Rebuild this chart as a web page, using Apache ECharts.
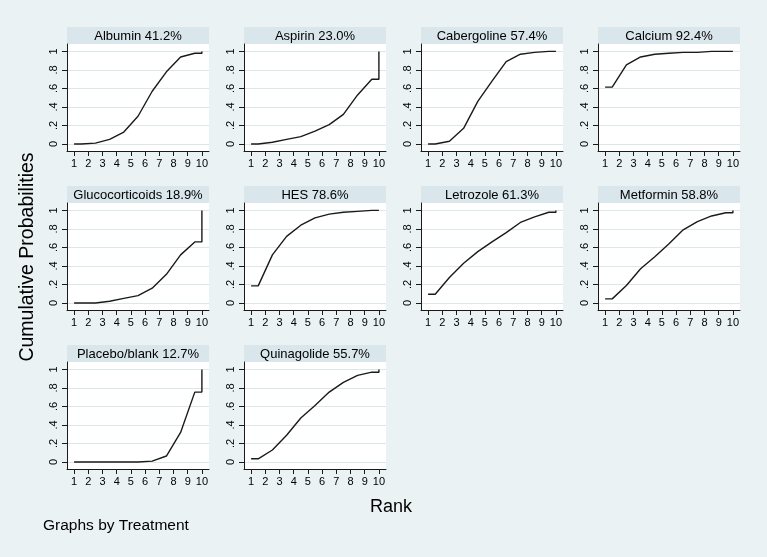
<!DOCTYPE html>
<html>
<head>
<meta charset="utf-8">
<script src="https://cdn.jsdelivr.net/npm/echarts@6/dist/echarts.min.js"></script>
<style>
html,body{margin:0;padding:0;background:#eaf2f3;}
#chart{width:767px;height:557px;}
</style>
</head>
<body>
<div id="chart"></div>
<script>
// ---- data ----
const treatments = ["Albumin", "Aspirin", "Cabergoline", "Calcium", "Glucocorticoids", "HES", "Letrozole", "Metformin", "Placebo/blank", "Quinagolide"];
const sucra = ["41.2%", "23.0%", "57.4%", "92.4%", "18.9%", "78.6%", "61.3%", "58.8%", "12.7%", "55.7%"];
const ranks = [1, 2, 3, 4, 5, 6, 7, 8, 9, 10];
const yTicks = [0, 0.2, 0.4, 0.6, 0.8, 1];
const yTickLabels = ["0", ".2", ".4", ".6", ".8", "1"];
// cumulative probability of being within the best k ranks (k = 1..10)
const albumin        = [0.00, 0.01, 0.05, 0.13, 0.30, 0.57, 0.78, 0.94, 0.98, 1.00];
const aspirin        = [0.00, 0.02, 0.05, 0.08, 0.14, 0.21, 0.32, 0.53, 0.70, 1.00];
const cabergoline    = [0.00, 0.03, 0.17, 0.46, 0.68, 0.89, 0.97, 0.99, 1.00, 1.00];
const calcium        = [0.615, 0.855, 0.94, 0.97, 0.98, 0.99, 0.99, 1.00, 1.00, 1.00];
const glucocorticoids= [0.00, 0.00, 0.02, 0.05, 0.08, 0.16, 0.31, 0.52, 0.66, 1.00];
const hes            = [0.185, 0.52, 0.72, 0.84, 0.92, 0.96, 0.98, 0.99, 1.00, 1.00];
const letrozole      = [0.095, 0.275, 0.43, 0.555, 0.66, 0.76, 0.87, 0.93, 0.98, 1.00];
const metformin      = [0.045, 0.19, 0.37, 0.50, 0.64, 0.79, 0.88, 0.94, 0.975, 1.00];
const placebo        = [0.00, 0.00, 0.00, 0.00, 0.00, 0.01, 0.065, 0.32, 0.755, 1.00];
const quinagolide    = [0.035, 0.13, 0.29, 0.475, 0.61, 0.755, 0.86, 0.935, 0.97, 1.00];
const cumulative = [albumin, aspirin, cabergoline, calcium, glucocorticoids, hes, letrozole, metformin, placebo, quinagolide];

// ---- layout ----
const colLeft = [67, 244, 421, 598];
const rowTop = [44, 203, 362];
const panelW = 142, panelH = 107, titleH = 17;
const FONT = "'Liberation Sans', Arial, sans-serif";

// Stata-style cumulative ranking curve: flat first half-step, kinks at mid-ranks, final jump at last rank
function curvePoints(c) {
  const n = c.length;
  const pts = [[ranks[0], c[0]], [ranks[0] + 0.5, c[0]]];
  for (let k = 1; k < n - 1; k++) pts.push([ranks[k] + 0.5, c[k]]);
  pts.push([ranks[n - 1], c[n - 2]]);
  pts.push([ranks[n - 1], c[n - 1]]);
  return pts;
}

const grids = [], xAxes = [], yAxes = [], series = [], graphics = [];
treatments.forEach((name, i) => {
  const col = i % 4, row = Math.floor(i / 4);
  const left = colLeft[col], top = rowTop[row];
  grids.push({left: left, top: top, width: panelW, height: panelH, show: true, backgroundColor: '#ffffff', borderWidth: 0, containLabel: false});
  xAxes.push({
    type: 'value', gridIndex: i, min: 0.5, max: 10.5, position: 'bottom',
    axisLine: {show: true, onZero: false, lineStyle: {color: '#1a1a1a', width: 1}},
    axisTick: {show: true, length: 5, customValues: ranks, lineStyle: {color: '#1a1a1a'}},
    axisLabel: {show: true, customValues: ranks, margin: 7, color: '#000', fontSize: 11, fontFamily: FONT, formatter: v => String(v)},
    splitLine: {show: false}
  });
  yAxes.push({
    type: 'value', gridIndex: i, min: -0.075, max: 1.08, position: 'left',
    axisLine: {show: true, onZero: false, lineStyle: {color: '#1a1a1a', width: 1}},
    axisTick: {show: true, length: 5, customValues: yTicks, lineStyle: {color: '#1a1a1a'}},
    axisLabel: {show: true, customValues: yTicks, rotate: 90, margin: 8, color: '#000', fontSize: 11, fontFamily: FONT,
      formatter: v => yTickLabels[yTicks.findIndex(t => Math.abs(t - v) < 1e-6)]},
    splitLine: {show: true, lineStyle: {color: '#dce6eb', width: 1}}
  });
  series.push({
    type: 'line', xAxisIndex: i, yAxisIndex: i, data: curvePoints(cumulative[i]),
    showSymbol: false, symbol: 'none', lineStyle: {color: '#1a1a1a', width: 1.4}, animation: false, silent: true
  });
  graphics.push({type: 'rect', left: left, top: top - titleH, shape: {width: panelW, height: titleH}, style: {fill: '#d9e6eb'}, silent: true});
  graphics.push({type: 'text', x: left + panelW / 2, y: top - titleH / 2 + 0.5,
    style: {text: name + ' ' + sucra[i], font: '13px ' + FONT, fill: '#000', textAlign: 'center', textVerticalAlign: 'middle', verticalAlign: 'middle'}});
});

graphics.push({type: 'text', x: 28, y: 257, rotation: Math.PI / 2,
  style: {text: 'Cumulative Probabilities', font: '19.5px ' + FONT, fill: '#000', textAlign: 'center', verticalAlign: 'middle', textVerticalAlign: 'middle'}});
graphics.push({type: 'text', x: 391, y: 507,
  style: {text: 'Rank', font: '18px ' + FONT, fill: '#000', textAlign: 'center', verticalAlign: 'middle', textVerticalAlign: 'middle'}});
graphics.push({type: 'text', x: 43, y: 526,
  style: {text: 'Graphs by Treatment', font: '15.5px ' + FONT, fill: '#000', textAlign: 'left', verticalAlign: 'middle', textVerticalAlign: 'middle'}});

const chart = echarts.init(document.getElementById('chart'), null, {renderer: 'canvas'});
chart.setOption({
  backgroundColor: '#eaf2f3',
  animation: false,
  grid: grids,
  xAxis: xAxes,
  yAxis: yAxes,
  series: series,
  graphic: graphics
});
</script>
</body>
</html>
